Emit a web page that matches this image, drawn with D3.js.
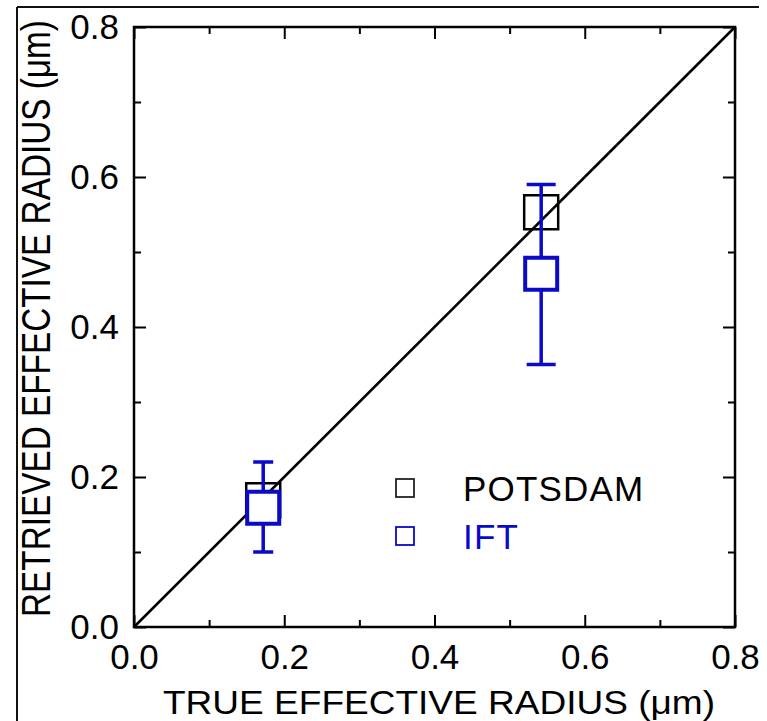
<!DOCTYPE html>
<html>
<head>
<meta charset="utf-8">
<script src="https://cdn.jsdelivr.net/npm/d3@7"></script>
<style>
  body { margin: 0; background: #fff; }
  svg { display: block; font-family: "Liberation Sans", Arial, sans-serif; }
</style>
</head>
<body>
<svg id="chart" width="767" height="721"></svg>
<script>
// data
var trueRadius = [0.172, 0.542];
var potsdam = [0.169, 0.553];
var ift = [0.159, 0.471];
var iftLow = [0.10, 0.35];
var iftHigh = [0.22, 0.59];
var majorTicks = [0.0, 0.2, 0.4, 0.6, 0.8];
var minorTicks = [0.1, 0.3, 0.5, 0.7];
var seriesNames = ["POTSDAM", "IFT"];

var svg = d3.select("#chart"),
    margin = {top: 27, right: 32, bottom: 94, left: 134},
    w = +svg.attr("width") - margin.left - margin.right,
    h = +svg.attr("height") - margin.top - margin.bottom;

var blue = "#0a0ac8";
var boxSize = 34;
var capW = [20, 29];

var x = d3.scaleLinear().domain([0, 0.8]).range([0, w]);
var y = d3.scaleLinear().domain([0, 0.8]).range([h, 0]);

// outer border of the figure (top and left only)
svg.append("line").attr("x1", 17).attr("x2", 759).attr("y1", 7).attr("y2", 7)
   .attr("stroke", "#111").attr("stroke-width", 2);
svg.append("line").attr("x1", 17).attr("x2", 17).attr("y1", 7).attr("y2", 721)
   .attr("stroke", "#111").attr("stroke-width", 2);

var g = svg.append("g")
    .attr("transform", "translate(" + margin.left + "," + margin.top + ")");

// 1:1 line
g.append("line")
   .attr("x1", x(0)).attr("y1", y(0))
   .attr("x2", x(0.8)).attr("y2", y(0.8))
   .attr("stroke", "#000").attr("stroke-width", 2.6);

// axes: ticks inward on all four sides
function styleAxis(sel) {
  sel.select(".domain").remove();
  sel.selectAll("line").attr("stroke", "#000").attr("stroke-width", 2);
  sel.selectAll("text").style("font-size", "35px").attr("fill", "#000");
}

g.append("g").attr("transform", "translate(0," + h + ")")
  .call(d3.axisBottom(x).tickValues(majorTicks).tickSize(-12).tickPadding(17).tickFormat(d3.format(".1f")))
  .call(styleAxis)
  .selectAll("text").attr("dy", "0.71em");
g.append("g").attr("transform", "translate(0," + h + ")")
  .call(d3.axisBottom(x).tickValues(minorTicks).tickSize(-7).tickFormat(""))
  .call(styleAxis);
g.append("g")
  .call(d3.axisTop(x).tickValues(majorTicks).tickSize(-12).tickFormat(""))
  .call(styleAxis);
g.append("g")
  .call(d3.axisTop(x).tickValues(minorTicks).tickSize(-7).tickFormat(""))
  .call(styleAxis);

g.append("g")
  .call(d3.axisLeft(y).tickValues(majorTicks).tickSize(-12).tickPadding(15).tickFormat(d3.format(".1f")))
  .call(styleAxis);
g.append("g")
  .call(d3.axisLeft(y).tickValues(minorTicks).tickSize(-7).tickFormat(""))
  .call(styleAxis);
g.append("g").attr("transform", "translate(" + w + ",0)")
  .call(d3.axisRight(y).tickValues(majorTicks).tickSize(-12).tickFormat(""))
  .call(styleAxis);
g.append("g").attr("transform", "translate(" + w + ",0)")
  .call(d3.axisRight(y).tickValues(minorTicks).tickSize(-7).tickFormat(""))
  .call(styleAxis);

// frame
g.append("rect")
   .attr("width", w).attr("height", h)
   .attr("fill", "none").attr("stroke", "#000").attr("stroke-width", 2.5);

// POTSDAM boxes
g.selectAll(".potsdam")
    .data(trueRadius)
  .enter().append("rect")
    .attr("class", "potsdam")
    .attr("x", function(d) { return x(d) - boxSize / 2; })
    .attr("y", function(d, i) { return y(potsdam[i]) - boxSize / 2; })
    .attr("width", boxSize).attr("height", boxSize)
    .attr("fill", "none").attr("stroke", "#000").attr("stroke-width", 2.5);

// IFT error bars
var err = g.selectAll(".ift-err")
    .data(trueRadius)
  .enter().append("g")
    .attr("class", "ift-err")
    .attr("stroke", blue).attr("stroke-width", 3.5);

err.append("line")
    .attr("x1", function(d) { return x(d); })
    .attr("x2", function(d) { return x(d); })
    .attr("y1", function(d, i) { return y(iftLow[i]); })
    .attr("y2", function(d, i) { return y(iftHigh[i]); });
err.append("line")
    .attr("x1", function(d, i) { return x(d) - capW[i] / 2; })
    .attr("x2", function(d, i) { return x(d) + capW[i] / 2; })
    .attr("y1", function(d, i) { return y(iftLow[i]); })
    .attr("y2", function(d, i) { return y(iftLow[i]); });
err.append("line")
    .attr("x1", function(d, i) { return x(d) - capW[i] / 2; })
    .attr("x2", function(d, i) { return x(d) + capW[i] / 2; })
    .attr("y1", function(d, i) { return y(iftHigh[i]); })
    .attr("y2", function(d, i) { return y(iftHigh[i]); });

// IFT boxes (white fill hides the error bar inside)
g.selectAll(".ift")
    .data(trueRadius)
  .enter().append("rect")
    .attr("class", "ift")
    .attr("x", function(d) { return x(d) - boxSize / 2 + 1; })
    .attr("y", function(d, i) { return y(ift[i]) - boxSize / 2 + 1; })
    .attr("width", boxSize - 2).attr("height", boxSize - 2)
    .attr("fill", "#fff").attr("stroke", blue).attr("stroke-width", 4);

// legend
var legend = g.selectAll(".legend")
    .data(seriesNames)
  .enter().append("g")
    .attr("class", "legend")
    .attr("transform", function(d, i) { return "translate(" + (405 - margin.left) + "," + (488 + i * 48 - margin.top) + ")"; });

legend.append("rect")
    .attr("x", -9).attr("y", -9).attr("width", 18).attr("height", 18)
    .attr("fill", "none")
    .attr("stroke", function(d, i) { return i == 0 ? "#222" : blue; })
    .attr("stroke-width", 1.8);

legend.append("text")
    .attr("x", 58).attr("y", 13)
    .style("font-size", "35px")
    .style("letter-spacing", "1.2px")
    .attr("fill", function(d, i) { return i == 0 ? "#000" : blue; })
    .text(function(d) { return d; });

// axis titles
svg.append("text")
    .attr("x", 163).attr("y", 714)
    .attr("textLength", 552)
    .attr("lengthAdjust", "spacingAndGlyphs")
    .style("font-size", "34px")
    .text("TRUE EFFECTIVE RADIUS (\u03bcm)");

// y title is tall and condensed in the original: scale it to fit
var yTitle = svg.append("text")
    .style("font-size", "34px")
    .text("RETRIEVED EFFECTIVE RADIUS (\u03bcm)");
var natural = yTitle.node().getComputedTextLength();
yTitle.attr("transform", "translate(50,617) rotate(-90) scale(" + (597 / natural) + ",1.2)");
</script>
</body>
</html>
